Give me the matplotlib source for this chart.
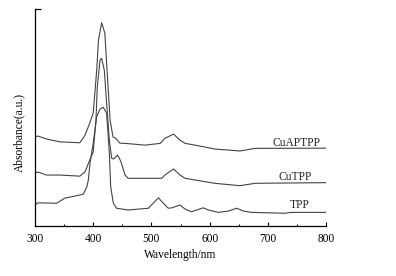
import matplotlib.pyplot as plt
import numpy as np

plt.rcParams['font.family'] = ['Liberation Serif', 'DejaVu Serif']

# wavelength (nm) and absorbance (a.u., offset stacked)
wl_cuaptpp = [300, 305, 320, 343, 377, 386, 394, 400, 406, 409, 414.5, 420, 423, 429, 434,
              438, 446, 455, 489, 515, 523, 538, 549, 558, 575, 609, 652, 678, 800]
ab_cuaptpp = [0.410, 0.415, 0.401, 0.388, 0.384, 0.419, 0.475, 0.521, 0.719, 0.857, 0.937,
              0.889, 0.751, 0.488, 0.410, 0.406, 0.382, 0.381, 0.373, 0.381, 0.404, 0.424,
              0.396, 0.381, 0.373, 0.355, 0.346, 0.358, 0.359]

wl_cutpp = [300, 305, 320, 343, 377, 386, 394, 400, 404.7, 407, 411.7, 414.5, 419, 423,
            427.7, 431.7, 435, 442, 447.8, 454.6, 460, 517.6, 523, 538, 549, 558, 575, 609,
            652, 678, 800]
ab_cutpp = [0.244, 0.249, 0.235, 0.235, 0.230, 0.250, 0.304, 0.342, 0.488, 0.642, 0.765,
            0.773, 0.719, 0.567, 0.396, 0.313, 0.309, 0.327, 0.296, 0.235, 0.220, 0.220,
            0.235, 0.263, 0.235, 0.220, 0.212, 0.197, 0.186, 0.197, 0.200]

wl_tpp = [300, 305, 337, 351.5, 368.7, 383, 389, 391.6, 394.5, 400, 406, 411.7, 417, 423,
          427.7, 430, 434.5, 440, 460, 494.7, 503, 512, 520.5, 529, 535, 549, 558, 569, 589,
          598, 615, 632, 646.5, 658, 672, 729.5, 740, 800]
ab_tpp = [0.097, 0.107, 0.105, 0.129, 0.138, 0.147, 0.180, 0.212, 0.290, 0.382, 0.504,
          0.539, 0.548, 0.521, 0.336, 0.181, 0.106, 0.082, 0.074, 0.082, 0.105, 0.130,
          0.105, 0.082, 0.084, 0.097, 0.078, 0.066, 0.084, 0.074, 0.063, 0.069, 0.082,
          0.069, 0.063, 0.059, 0.063, 0.063]

labels = ["CuAPTPP", "CuTPP", "TPP"]
label_pos = [(750, 0.370), (747, 0.212), (754, 0.084)]

fig = plt.figure(figsize=(3.96, 2.76), dpi=100)
ax = fig.add_axes([0.0884, 0.181, 0.735, 0.786])

line_kw = dict(color='#444444', lw=0.8)
ax.plot(wl_cuaptpp, ab_cuaptpp, **line_kw)
ax.plot(wl_cutpp, ab_cutpp, **line_kw)
ax.plot(wl_tpp, ab_tpp, **line_kw)

for lab, (x, y) in zip(labels, label_pos):
    ax.text(x, y, lab, fontsize=8.3, ha='center', va='baseline', color='#222222')

ax.set_xlim(300, 800)
ax.set_ylim(0, 1)
ax.set_xticks(np.arange(300, 801, 100))
ax.set_xticks(np.arange(350, 800, 100), minor=True)
ax.set_yticks([1.0])
ax.set_yticklabels([])
ax.tick_params(axis='x', which='both', direction='in', labelsize=8.3, pad=5)
ax.tick_params(axis='x', which='major', length=3, width=0.8)
ax.tick_params(axis='x', which='minor', length=1.8, width=0.8)
ax.tick_params(axis='y', direction='in', length=4.3, width=0.9)
for s in ['top', 'right']:
    ax.spines[s].set_visible(False)
for s in ['left', 'bottom']:
    ax.spines[s].set_linewidth(0.9)

ax.set_xlabel("Wavelength/nm", fontsize=8.3, labelpad=3)
fig.text(19 / 396, 1 - 133 / 276, "Absorbance(a.u.)", fontsize=8.3,
         rotation=90, ha='center', va='center')

fig.savefig("out.png", dpi=100)
